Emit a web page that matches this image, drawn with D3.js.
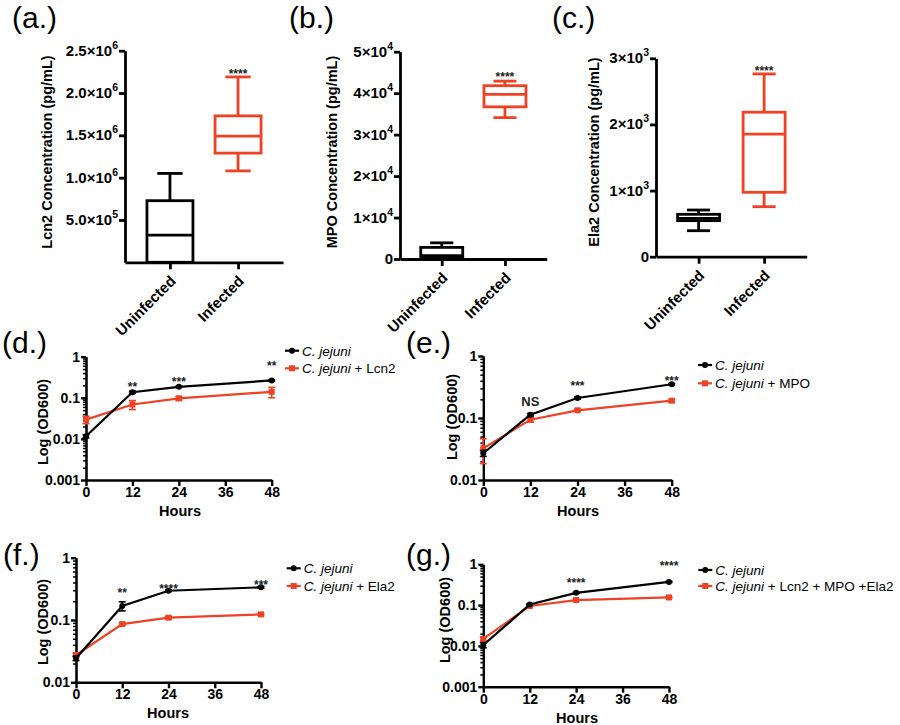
<!DOCTYPE html>
<html><head><meta charset="utf-8">
<script src="https://cdn.jsdelivr.net/npm/d3@7"></script>
<style>
body{margin:0;background:#fff}
text{font-family:"Liberation Sans",Arial,Helvetica,sans-serif}
</style>
</head><body>
<svg id="c" width="900" height="725"></svg>
<script>
const RED = "#ef4123";
const BLACK = "#000";

// ---------- box-plot data: [min, q1, median, q3, max] ----------
const categories = ["Uninfected", "Infected"];
const lcn2Uninf = [0, 0, 320000, 728000, 1050000];
const lcn2Inf = [1080000, 1290000, 1490000, 1730000, 2190000];
const mpoUninf = [0, 200, 800, 2800, 3900];
const mpoInf = [34100, 36700, 39700, 41800, 42900];
const ela2Uninf = [393, 545, 581, 641, 706];
const ela2Inf = [756, 974, 1852, 2185, 2764];

const lcn2Ticks = [500000, 1000000, 1500000, 2000000, 2500000];
const lcn2TickLabels = [["5.0×10", "5"], ["1.0×10", "6"], ["1.5×10", "6"], ["2.0×10", "6"], ["2.5×10", "6"]];
const mpoTicks = [0, 10000, 20000, 30000, 40000, 50000];
const mpoTickLabels = [["0", ""], ["1×10", "4"], ["2×10", "4"], ["3×10", "4"], ["4×10", "4"], ["5×10", "4"]];
const ela2Ticks = [0, 1000, 2000, 3000];
const ela2TickLabels = [["0", ""], ["1×10", "3"], ["2×10", "3"], ["3×10", "3"]];

const lcn2Star = 2260000, mpoStar = 44600, ela2Star = 2855;

// ---------- growth curve data ----------
const hours = [0, 12, 24, 48];
const hourTicks = [0, 12, 24, 36, 48];
const logTicks3 = [0.001, 0.01, 0.1, 1];
const logTickLabels3 = ["0.001", "0.01", "0.1", "1"];
const logTicks2 = [0.01, 0.1, 1];
const logTickLabels2 = ["0.01", "0.1", "1"];

const cjD = [0.0116, 0.137, 0.185, 0.264];
const cjDErr = [0.001, 0.008, 0.006, 0.01];
const lcn2D = [0.0295, 0.0687, 0.097, 0.14];
const lcn2DErr = [0.006, 0.017, 0.01, 0.04];
const starsD = ["", "**", "***", "**"];
const starLevelD = [0, 0.211, 0.29, 0.71];

const cjE = [0.027, 0.113, 0.21, 0.35];
const cjEErr = [0.003, 0.005, 0.008, 0.01];
const mpoE = [0.0324, 0.094, 0.133, 0.19];
const mpoEErr = [0.014, 0.008, 0.005, 0.01];
const starsE = ["", "NS", "***", "***"];
const starLevelE = [0, 0.185, 0.367, 0.44];

const cjF = [0.0243, 0.168, 0.295, 0.335];
const cjFErr = [0.002, 0.028, 0.008, 0.01];
const ela2F = [0.0274, 0.086, 0.109, 0.123];
const ela2FErr = [0.002, 0.004, 0.004, 0.005];
const starsF = ["", "**", "****", "***"];
const starLevelF = [0, 0.303, 0.351, 0.41];

const cjG = [0.0105, 0.104, 0.2, 0.37];
const cjGErr = [0.0015, 0.004, 0.008, 0.01];
const comboG = [0.0148, 0.095, 0.133, 0.154];
const comboGErr = [0.0015, 0.004, 0.005, 0.005];
const starsG = ["", "", "****", "****"];
const starLevelG = [0, 0, 0.41, 1.05];

const svg = d3.select("#c");

function title(txt, x, y) {
  svg.append("text").attr("x", x).attr("y", y).attr("font-size", 30).text(txt);
}
function yLabel(txt, x, y, fs) {
  svg.append("text").attr("transform", `translate(${x},${y}) rotate(-90)`)
    .attr("text-anchor", "middle").attr("dy", "0.35em")
    .attr("font-size", fs || 14.5).attr("font-weight", "bold").text(txt);
}

function boxPanel(o) {
  const g = svg.append("g");
  const x = d3.scalePoint().domain(categories).range([o.x0, o.x1]).padding(o.pad);
  const y = d3.scaleLinear().domain([0, o.ymax]).range([o.y0, o.yTop]);

  const ya = g.append("g").attr("transform", `translate(${o.x0},0)`)
    .call(d3.axisLeft(y).tickValues(o.ticks).tickFormat("").tickSize(6).tickSizeOuter(0));
  ya.selectAll("path,line").attr("stroke", BLACK).attr("stroke-width", 2.8);
  o.ticks.forEach((t, i) => {
    const lab = o.labels[i];
    const tx = g.append("text").attr("x", o.x0 - 7).attr("y", y(t) + 5)
      .attr("text-anchor", "end").attr("font-size", 15).attr("font-weight", "bold");
    tx.append("tspan").text(lab[0]);
    if (lab[1]) tx.append("tspan").attr("dy", -7).attr("font-size", 10.5).text(lab[1]);
  });

  const xa = g.append("g").attr("transform", `translate(0,${o.y0})`)
    .call(d3.axisBottom(x).tickFormat("").tickSize(7).tickSizeOuter(0));
  xa.selectAll("path,line").attr("stroke", BLACK).attr("stroke-width", 2.8);
  categories.forEach(c => {
    g.append("text").attr("transform", `translate(${x(c) + 3},${o.y0 + 16}) rotate(-45)`)
      .attr("text-anchor", "end").attr("dy", "0.35em")
      .attr("font-size", 15).attr("font-weight", "bold").text(c);
  });

  o.boxes.forEach((b, i) => {
    const cx = x(categories[i]), col = o.colors[i], w = o.boxW, cw = w * 0.55;
    const bg = g.append("g").attr("stroke", col).attr("stroke-width", 2.8).attr("fill", "none");
    bg.append("line").attr("x1", cx).attr("x2", cx).attr("y1", y(b[3])).attr("y2", y(b[4]));
    bg.append("line").attr("x1", cx).attr("x2", cx).attr("y1", y(b[1])).attr("y2", y(b[0]));
    bg.append("line").attr("x1", cx - cw / 2).attr("x2", cx + cw / 2).attr("y1", y(b[4])).attr("y2", y(b[4]));
    bg.append("line").attr("x1", cx - cw / 2).attr("x2", cx + cw / 2).attr("y1", y(b[0])).attr("y2", y(b[0]));
    bg.append("rect").attr("x", cx - w / 2).attr("y", y(b[3])).attr("width", w)
      .attr("height", y(b[1]) - y(b[3])).attr("fill", "#fff");
    bg.append("line").attr("x1", cx - w / 2).attr("x2", cx + w / 2).attr("y1", y(b[2])).attr("y2", y(b[2]));
  });
  g.append("text").attr("x", x(categories[1])).attr("y", y(o.star) + 7)
    .attr("text-anchor", "middle").attr("font-size", 12).attr("font-weight", "bold")
    .attr("fill", "#222").text("****");
}

function linePanel(o) {
  const g = svg.append("g");
  const x = d3.scaleLinear().domain([0, 48]).range([o.x0, o.x1]);
  const y = d3.scaleLog().domain([o.ymin, 1]).range([o.y0, o.yTop]);
  const minor = [];
  o.ticks.slice(0, -1).forEach(p => { for (let m = 2; m <= 9; m++) minor.push(p * m); });

  const ym = g.append("g").attr("transform", `translate(${o.x0},0)`)
    .call(d3.axisLeft(y).tickValues(minor).tickFormat("").tickSize(3).tickSizeOuter(0));
  ym.selectAll("path,line").attr("stroke", BLACK).attr("stroke-width", 1.5);
  const ya = g.append("g").attr("transform", `translate(${o.x0},0)`)
    .call(d3.axisLeft(y).tickValues(o.ticks).tickFormat((d, i) => o.tickLabels[i]).tickSize(5).tickSizeOuter(0));
  ya.selectAll("path,line").attr("stroke", BLACK).attr("stroke-width", 2.4);
  ya.selectAll("text").attr("font-size", 14).attr("font-weight", "bold").attr("fill", BLACK)
    .attr("font-family", null).attr("x", -6);

  const xa = g.append("g").attr("transform", `translate(0,${o.y0})`)
    .call(d3.axisBottom(x).tickValues(hourTicks).tickSize(6).tickSizeOuter(0));
  xa.selectAll("path,line").attr("stroke", BLACK).attr("stroke-width", 2.4);
  xa.selectAll("text").attr("font-size", 14).attr("font-weight", "bold").attr("fill", BLACK)
    .attr("font-family", null).attr("y", 7);

  g.append("text").attr("x", o.hx).attr("y", o.hy).attr("text-anchor", "middle")
    .attr("font-size", 14.5).attr("font-weight", "bold").text("Hours");

  const line = d3.line().x((d, i) => x(hours[i])).y(d => y(d));
  o.series.forEach(s => {
    const sg = g.append("g");
    sg.append("path").datum(s.vals).attr("d", line).attr("fill", "none")
      .attr("stroke", s.color).attr("stroke-width", 2.2);
    s.vals.forEach((v, i) => {
      const e = s.err[i], cx = x(hours[i]);
      sg.append("line").attr("x1", cx).attr("x2", cx).attr("y1", y(v - e)).attr("y2", y(v + e))
        .attr("stroke", s.color).attr("stroke-width", 1.6);
      [v - e, v + e].forEach(ev => sg.append("line").attr("x1", cx - 3.5).attr("x2", cx + 3.5)
        .attr("y1", y(ev)).attr("y2", y(ev)).attr("stroke", s.color).attr("stroke-width", 1.6));
      if (s.marker === "circle") sg.append("circle").attr("cx", cx).attr("cy", y(v)).attr("r", 3).attr("fill", s.color);
      else sg.append("rect").attr("x", cx - 3).attr("y", y(v) - 3).attr("width", 6).attr("height", 6).attr("fill", s.color);
    });
  });

  o.stars.forEach((s, i) => {
    if (!s) return;
    g.append("text").attr("x", x(hours[i])).attr("y", y(o.starLevels[i]) + (s === "NS" ? 5 : 7))
      .attr("text-anchor", "middle").attr("font-size", s === "NS" ? 13 : 12).attr("font-weight", "bold")
      .attr("fill", "#222").text(s);
  });

  // legend
  o.series.forEach((s, i) => {
    const ly = o.ly[i];
    g.append("line").attr("x1", o.lx).attr("x2", o.lx + 14).attr("y1", ly).attr("y2", ly)
      .attr("stroke", s.color).attr("stroke-width", 2.2);
    if (s.marker === "circle") g.append("circle").attr("cx", o.lx + 7).attr("cy", ly).attr("r", 3).attr("fill", s.color);
    else g.append("rect").attr("x", o.lx + 4).attr("y", ly - 3).attr("width", 6).attr("height", 6).attr("fill", s.color);
    const t = g.append("text").attr("x", o.lx + 17).attr("y", ly + 5).attr("font-size", 13.5);
    t.append("tspan").attr("font-style", "italic").text("C. jejuni");
    if (s.suffix) t.append("tspan").text(s.suffix);
  });
}

// ---------- top row ----------
title("(a.)", 12, 28);
title("(b.)", 289, 28);
title("(c.)", 552, 28);
yLabel("Lcn2 Concentration (pg/mL)", 47, 152);
yLabel("MPO Concentration (pg/mL)", 332, 152);
yLabel("Ela2 Concentration (pg/mL)", 594, 152);

boxPanel({x0: 125, x1: 283, pad: 0.66, y0: 262.3, yTop: 50.7, ymax: 2500000,
  ticks: lcn2Ticks, labels: lcn2TickLabels, boxes: [lcn2Uninf, lcn2Inf], colors: [BLACK, RED],
  boxW: 46, star: lcn2Star});
boxPanel({x0: 400, x1: 546.7, pad: 0.66, y0: 259, yTop: 51.7, ymax: 50000,
  ticks: mpoTicks, labels: mpoTickLabels, boxes: [mpoUninf, mpoInf], colors: [BLACK, RED],
  boxW: 42, star: mpoStar});
boxPanel({x0: 656, x1: 806.7, pad: 0.65, y0: 256.7, yTop: 58.3, ymax: 3000,
  ticks: ela2Ticks, labels: ela2TickLabels, boxes: [ela2Uninf, ela2Inf], colors: [BLACK, RED],
  boxW: 42, star: ela2Star});

// ---------- growth curves ----------
title("(d.)", 2, 353);
title("(e.)", 406, 353);
title("(f.)", 3, 565);
title("(g.)", 406, 565);
yLabel("Log (OD600)", 43, 422);
yLabel("Log (OD600)", 452, 417);
yLabel("Log (OD600)", 43, 622);
yLabel("Log (OD600)", 445, 620);

linePanel({x0: 86, x1: 271.7, y0: 480, yTop: 356.7, ymin: 0.001,
  ticks: logTicks3, tickLabels: logTickLabels3, hx: 180, hy: 516,
  series: [
    {vals: lcn2D, err: lcn2DErr, color: RED, marker: "square", suffix: " + Lcn2"},
    {vals: cjD, err: cjDErr, color: BLACK, marker: "circle", suffix: ""}],
  stars: starsD, starLevels: starLevelD, lx: 285, ly: [368.3, 350.7]});
linePanel({x0: 483.3, x1: 671.7, y0: 480, yTop: 356, ymin: 0.01,
  ticks: logTicks2, tickLabels: logTickLabels2, hx: 578, hy: 516,
  series: [
    {vals: mpoE, err: mpoEErr, color: RED, marker: "square", suffix: " + MPO"},
    {vals: cjE, err: cjEErr, color: BLACK, marker: "circle", suffix: ""}],
  stars: starsE, starLevels: starLevelE, lx: 698, ly: [383.3, 365]});
linePanel({x0: 76, x1: 261, y0: 682.3, yTop: 557.7, ymin: 0.01,
  ticks: logTicks2, tickLabels: logTickLabels2, hx: 168, hy: 718,
  series: [
    {vals: ela2F, err: ela2FErr, color: RED, marker: "square", suffix: " + Ela2"},
    {vals: cjF, err: cjFErr, color: BLACK, marker: "circle", suffix: ""}],
  stars: starsF, starLevels: starLevelF, lx: 286.7, ly: [586, 568.3]});
linePanel({x0: 483.3, x1: 669, y0: 686.7, yTop: 564.3, ymin: 0.001,
  ticks: logTicks3, tickLabels: logTickLabels3, hx: 577, hy: 723,
  series: [
    {vals: comboG, err: comboGErr, color: RED, marker: "square", suffix: " + Lcn2 + MPO +Ela2"},
    {vals: cjG, err: cjGErr, color: BLACK, marker: "circle", suffix: ""}],
  stars: starsG, starLevels: starLevelG, lx: 698.3, ly: [586, 570]});
</script>
</body></html>
